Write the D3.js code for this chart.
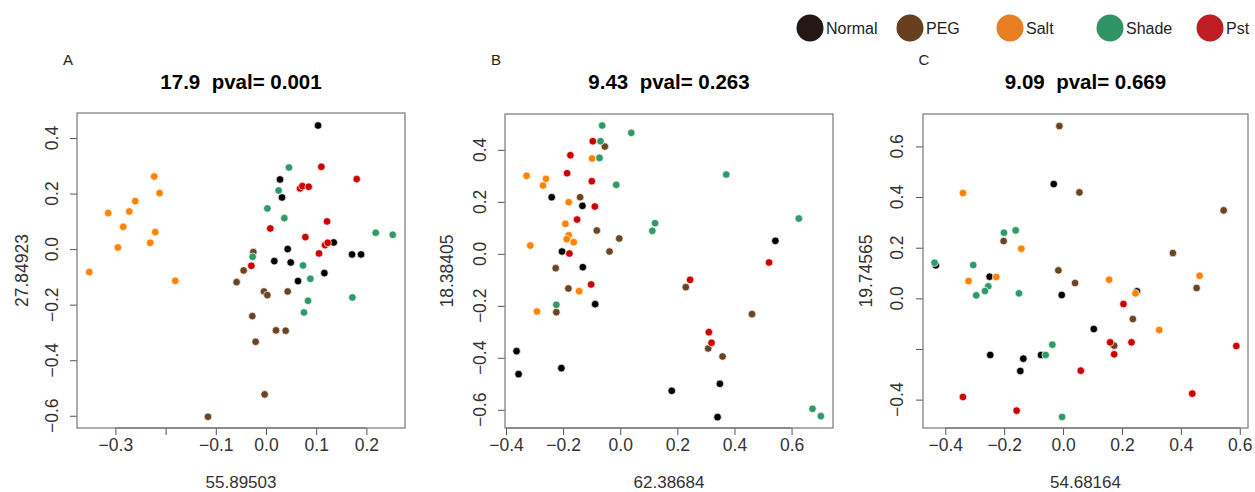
<!DOCTYPE html>
<html>
<head>
<meta charset="utf-8">
<script src="https://cdn.jsdelivr.net/npm/d3@7"></script>
<style>
  body { margin: 0; background: #fff; }
  svg { font-family: "Liberation Sans", Arial, sans-serif; }
</style>
</head>
<body>
<svg id="chart"></svg>
<script>
// groups and legend
const groups = ["Normal", "PEG", "Salt", "Shade", "Pst"];
const legendColors = ["#231815", "#673f1e", "#e77f22", "#2f9363", "#be1d23"];
const pointColors = ["#000000", "#6b4423", "#ff8200", "#2e9a68", "#cc0000"];

// panel A
const aNormal = [[0.1037,0.445],[0.0279,0.2507],[0.0319,0.186],[0.0432,0.0],[0.0166,-0.0432],[0.0492,-0.048],
  [0.1349,0.024],[0.1714,-0.0192],[0.1894,-0.0192],[0.1163,-0.0864],[0.0638,-0.1152]];
const aPEG = [[-0.0252,-0.0108],[-0.0445,-0.0768],[-0.0585,-0.1188],[-0.004,-0.1524],[0.0027,-0.1656],[0.0432,-0.1524],
  [-0.0272,-0.2412],[0.0199,-0.2927],[0.0392,-0.2939],[-0.0206,-0.3335],[-0.0027,-0.5231],[-0.1156,-0.6035]];
const aSalt = [[-0.2226,0.2615],[-0.212,0.2016],[-0.2605,0.1728],[-0.3143,0.1296],[-0.2724,0.1356],[-0.2844,0.0804],
  [-0.2206,0.0612],[-0.2306,0.0228],[-0.295,0.006],[-0.352,-0.0828],[-0.1807,-0.114]];
const aShade = [[0.0458,0.294],[0.0252,0.2112],[0.0027,0.1464],[0.0365,0.1116],[0.2186,0.0588],[0.2525,0.0516],
  [-0.0266,-0.0276],[0.0738,-0.0588],[0.0884,-0.1068],[0.0837,-0.186],[0.0757,-0.228],[0.1721,-0.174]];
const aPst = [[0.1103,0.2963],[0.1807,0.252],[0.0678,0.2184],[0.0724,0.2268],[0.085,0.2244],[0.1216,0.0996],
  [0.0086,0.0744],[0.0784,0.0432],[0.1176,0.0144],[0.1229,0.0228],[0.1056,-0.0156],[-0.0292,-0.06]];

// panel B
const bNormal = [[-0.24,0.2179],[-0.1323,0.1846],[-0.2037,0.009],[-0.1311,-0.0513],[-0.0878,-0.1936],[0.5433,0.05],
  [-0.363,-0.3744],[-0.356,-0.4628],[-0.2061,-0.4397],[0.1803,-0.5269],[0.3489,-0.5],[0.3407,-0.6282]];
const bPEG = [[-0.0539,0.4128],[-0.1405,0.2179],[-0.082,0.0897],[-0.0035,0.059],[-0.0375,0.009],[-0.226,-0.0551],
  [-0.1815,-0.1333],[-0.2237,-0.2244],[0.2295,-0.1282],[0.4614,-0.232],[0.308,-0.3641],[0.3583,-0.3949]];
const bSalt = [[-0.0984,0.3667],[-0.3279,0.3],[-0.26,0.2885],[-0.2705,0.2628],[-0.1803,0.1987],[-0.192,0.1154],
  [-0.1803,0.0718],[-0.1874,0.0564],[-0.1628,0.0449],[-0.315,0.0321],[-0.144,-0.1436],[-0.2916,-0.2218]];
const bShade = [[-0.0632,0.4936],[0.0386,0.4654],[-0.0691,0.4333],[-0.0726,0.3692],[-0.014,0.2654],[0.3712,0.3051],
  [0.1218,0.1179],[0.1124,0.0885],[0.6253,0.1359],[-0.2237,-0.1962],[0.6733,-0.5962],[0.7026,-0.6244]];
const bPst = [[-0.096,0.4333],[-0.1745,0.3795],[-0.1862,0.3103],[-0.0995,0.2795],[-0.089,0.182],[-0.151,0.132],
  [-0.178,0.0013],[-0.1019,-0.118],[0.2447,-0.1],[0.5211,-0.0333],[0.3103,-0.3013],[0.3197,-0.3423]];

// panel C
const cNormal = [[-0.0317,0.4513],[-0.432,0.1303],[-0.2494,0.0855],[-0.0045,0.0132],[0.2506,0.0276],[0.1043,-0.1211],
  [-0.2472,-0.2237],[-0.1349,-0.2382],[-0.0748,-0.2237],[-0.1451,-0.2868]];
const cPEG = [[-0.0125,0.6803],[0.0556,0.4184],[0.5454,0.3474],[-0.2018,0.2263],[0.373,0.1789],[-0.0159,0.1105],
  [0.0408,0.0605],[0.4535,0.0408],[0.237,-0.0816],[0.1735,-0.1868]];
const cSalt = [[-0.3401,0.4158],[-0.1417,0.1961],[-0.3209,0.0684],[-0.2268,0.0842],[0.1565,0.0737],[0.4637,0.0895],
  [0.246,0.0197],[0.3265,-0.125]];
const cShade = [[-0.4365,0.1408],[-0.2007,0.2592],[-0.161,0.2684],[-0.305,0.1316],[-0.254,0.0474],[-0.2653,0.0289],
  [-0.2948,0.0118],[-0.1497,0.0197],[-0.0363,-0.1829],[-0.059,-0.2237],[-0.0034,-0.4684]];
const cPst = [[0.2052,-0.0224],[0.1599,-0.1737],[0.2324,-0.1737],[0.1735,-0.2211],[0.5884,-0.1882],[0.0601,-0.2855],
  [-0.3401,-0.3895],[-0.1576,-0.4434],[0.4388,-0.3763]];

// titles and tick values
const letters = ["A", "B", "C"];
const titles = ["17.9  pval= 0.001", "9.43  pval= 0.263", "9.09  pval= 0.669"];
const xTitles = ["55.89503", "62.38684", "54.68164"];
const yTitles = ["27.84923", "18.38405", "19.74565"];
const aXTicks = [-0.3, -0.2, -0.1, 0.0, 0.1, 0.2];
const aYTicks = [-0.6, -0.4, -0.2, 0.0, 0.2, 0.4];
const bXTicks = [-0.4, -0.2, 0.0, 0.2, 0.4, 0.6];
const bYTicks = [-0.6, -0.4, -0.2, 0.0, 0.2, 0.4];
const cXTicks = [-0.4, -0.2, 0.0, 0.2, 0.4, 0.6];
const cYTicks = [-0.4, -0.2, 0.0, 0.2, 0.4, 0.6];
// labels R dropped because they overlapped
const aXHidden = [-0.2];
const cYHidden = [-0.2];

const width = 1255, height = 492;
const svg = d3.select("#chart").attr("width", width).attr("height", height);

const panels = [
  { series: [aNormal, aPEG, aSalt, aShade, aPst], xTicks: aXTicks, yTicks: aYTicks, xHide: aXHidden, yHide: [],
    box: [77, 113, 405, 428], xDom: [-0.3765, 0.2769], yDom: [-0.644, 0.490], letterX: 68, yLabX: 52, yTitX: 22 },
  { series: [bNormal, bPEG, bSalt, bShade, bPst], xTicks: bXTicks, yTicks: bYTicks, xHide: [], yHide: [],
    box: [505, 114, 833, 428], xDom: [-0.4035, 0.745], yDom: [-0.670, 0.538], letterX: 496, yLabX: 480, yTitX: 447 },
  { series: [cNormal, cPEG, cSalt, cShade, cPst], xTicks: cXTicks, yTicks: cYTicks, xHide: [], yHide: cYHidden,
    box: [923, 114, 1248, 428], xDom: [-0.4756, 0.628], yDom: [-0.512, 0.728], letterX: 924, yLabX: 897, yTitX: 866 }
];

const fmt = d3.format(".1f");
const textCol = "#333";

panels.forEach((p, i) => {
  const [x0, y0, x1, y1] = p.box;
  const x = d3.scaleLinear().domain(p.xDom).range([x0, x1]);
  const y = d3.scaleLinear().domain(p.yDom).range([y1, y0]);
  const g = svg.append("g");

  // x axis
  const xAxis = d3.axisBottom(x).tickValues(p.xTicks).tickSize(7).tickPadding(4)
    .tickFormat(d => p.xHide.some(h => Math.abs(h - d) < 1e-9) ? "" : fmt(d));
  const gx = g.append("g").attr("transform", `translate(0,${y1})`).call(xAxis);
  gx.select(".domain").remove();
  gx.selectAll(".tick line").attr("stroke", "#555");
  gx.selectAll(".tick text").attr("fill", textCol).style("font-size", "17.5px");
  // baseline along the tick span, like R
  g.append("line").attr("x1", x(p.xTicks[0])).attr("x2", x(p.xTicks[p.xTicks.length - 1]))
    .attr("y1", y1).attr("y2", y1).attr("stroke", "#555");

  // y axis
  const yAxis = d3.axisLeft(y).tickValues(p.yTicks).tickSize(7).tickFormat("");
  const gy = g.append("g").attr("transform", `translate(${x0},0)`).call(yAxis);
  gy.select(".domain").remove();
  gy.selectAll(".tick line").attr("stroke", "#555");
  g.selectAll(".ylab").data(p.yTicks.filter(d => !p.yHide.some(h => Math.abs(h - d) < 1e-9)))
    .enter().append("text")
    .attr("transform", d => `translate(${p.yLabX},${y(d)}) rotate(-90)`)
    .attr("text-anchor", "middle").attr("dy", "0.35em")
    .attr("fill", textCol).style("font-size", "17.5px")
    .text(d => fmt(d));

  // box
  g.append("rect").attr("x", x0).attr("y", y0).attr("width", x1 - x0).attr("height", y1 - y0)
    .attr("fill", "none").attr("stroke", "#777").attr("stroke-width", 1.2);

  // points
  p.series.forEach((pts, k) => {
    g.append("g").selectAll("circle").data(pts).enter().append("circle")
      .attr("cx", d => x(d[0])).attr("cy", d => y(d[1])).attr("r", 3.8)
      .attr("fill", pointColors[k]).attr("stroke", "#fff").attr("stroke-width", 0.7);
  });

  // texts
  const cx = (x0 + x1) / 2, cy = (y0 + y1) / 2;
  g.append("text").attr("x", p.letterX).attr("y", 65).attr("text-anchor", "middle")
    .style("font-size", "15px").attr("fill", "#222").text(letters[i]);
  g.append("text").attr("x", cx).attr("y", 89).attr("text-anchor", "middle")
    .style("white-space", "pre")
    .style("font-size", "20.5px").style("font-weight", "bold").attr("fill", "#000").text(titles[i]);
  g.append("text").attr("x", cx).attr("y", 488).attr("text-anchor", "middle")
    .style("font-size", "17px").attr("fill", textCol).text(xTitles[i]);
  g.append("text").attr("transform", `translate(${p.yTitX},${cy}) rotate(-90)`)
    .attr("text-anchor", "middle").attr("dy", "0.35em")
    .style("font-size", "17.5px").attr("fill", textCol).text(yTitles[i]);
});

// legend
const legX = d3.scalePoint().domain(groups).range([810, 1210]);
const leg = svg.append("g").selectAll("g").data(groups).enter().append("g")
  .attr("transform", d => `translate(${legX(d)},28)`);
leg.append("circle").attr("r", 13.5).attr("fill", (d, i) => legendColors[i]);
leg.append("text").attr("x", 16).attr("dy", "0.35em").style("font-size", "16px")
  .attr("fill", "#222").text(d => d);
</script>
</body>
</html>
